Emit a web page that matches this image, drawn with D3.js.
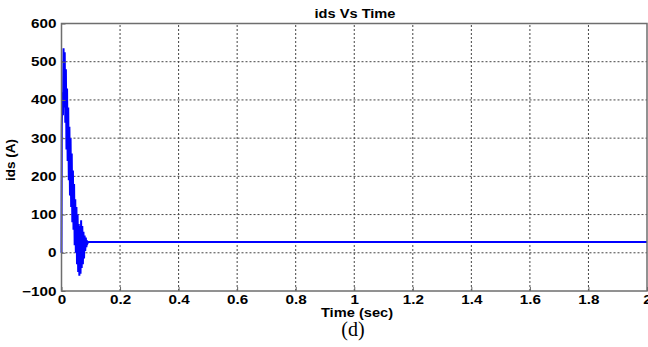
<!DOCTYPE html>
<html>
<head>
<meta charset="utf-8">
<script src="https://cdn.jsdelivr.net/npm/d3@7"></script>
<style>
  body { margin: 0; background: #fff; }
  svg text { font-family: "Liberation Sans", Arial, sans-serif; font-weight: bold; fill: #000; }
  .wide { transform-box: fill-box; transform-origin: center; transform: scaleX(1.22); }
</style>
</head>
<body>
<div id="chart"></div>
<script>
// tick labels
var xTicks = [0, 0.2, 0.4, 0.6, 0.8, 1, 1.2, 1.4, 1.6, 1.8, 2];
var yTicks = [-100, 0, 100, 200, 300, 400, 500, 600];

// ids current (A) vs time (s)
var timeSec = [0, 0.001, 0.003, 0.005, 0.007, 0.009, 0.011, 0.013, 0.015, 0.017, 0.019,
  0.021, 0.023, 0.025, 0.027, 0.029, 0.031, 0.033, 0.035, 0.037, 0.039,
  0.041, 0.043, 0.045, 0.047, 0.049, 0.051, 0.053, 0.055, 0.057, 0.059,
  0.061, 0.063, 0.065, 0.067, 0.069, 0.071, 0.073, 0.075, 0.077, 0.079,
  0.081, 0.083, 0.085, 0.087, 0.089, 0.091, 2.0];
var idsAmp = [0, 330, 420, 360, 535, 380, 525, 340, 480, 270, 430,
  240, 380, 190, 330, 150, 300, 120, 260, 80, 215,
  60, 180, 20, 140, 0, 120, -30, 100, -50, 75,
  -60, 70, -55, 85, -40, 70, -30, 55, -15, 45,
  5, 40, 15, 32, 25, 28, 28];

var W = 648, H = 347;
var margin = { top: 23.5, right: 1, bottom: 56, left: 61.5 };

var svg = d3.select("#chart").append("svg")
  .attr("width", W).attr("height", H);

var x = d3.scaleLinear().domain([0, 2]).range([margin.left, W - margin.right]);
var y = d3.scaleLinear().domain([-100, 600]).range([H - margin.bottom, margin.top]);

// grid
svg.append("g").selectAll("line")
  .data(xTicks.slice(1, -1)).enter().append("line")
  .attr("x1", d => x(d)).attr("x2", d => x(d))
  .attr("y1", y(-100)).attr("y2", y(600))
  .attr("stroke", "#444").attr("stroke-width", 1).attr("stroke-dasharray", "2,2");
svg.append("g").selectAll("line")
  .data(yTicks.slice(1, -1)).enter().append("line")
  .attr("x1", x(0)).attr("x2", x(2))
  .attr("y1", d => y(d)).attr("y2", d => y(d))
  .attr("stroke", "#444").attr("stroke-width", 1).attr("stroke-dasharray", "2,2");

// signal
var line = d3.line().x((d, i) => x(timeSec[i])).y(d => y(d));
svg.append("path")
  .datum(idsAmp)
  .attr("d", line)
  .attr("fill", "none")
  .attr("stroke", "#0000ff")
  .attr("stroke-width", 2);

// axes
var xAxis = svg.append("g")
  .attr("transform", "translate(0," + y(-100) + ")")
  .call(d3.axisBottom(x).tickValues(xTicks).tickFormat(d3.format("")).tickSize(-4).tickPadding(4));
var yAxis = svg.append("g")
  .attr("transform", "translate(" + x(0) + ",0)")
  .call(d3.axisLeft(y).tickValues(yTicks).tickSize(-4).tickPadding(5));
[xAxis, yAxis].forEach(function (a) {
  a.select(".domain").remove();
  a.selectAll(".tick line").attr("stroke", "#666");
  a.selectAll("text").attr("class", "wide").style("font-size", "12.5px");
});
yAxis.selectAll("text").style("transform-origin", "right center");

// frame
svg.append("rect")
  .attr("x", x(0)).attr("y", y(600))
  .attr("width", x(2) - x(0)).attr("height", y(-100) - y(600))
  .attr("fill", "none").attr("stroke", "#6e6e6e").attr("stroke-width", 1.5);

// labels
svg.append("text").attr("class", "wide")
  .attr("x", 355).attr("y", 18).attr("text-anchor", "middle")
  .style("font-size", "12px").text("ids Vs Time");
svg.append("text").attr("class", "wide")
  .attr("x", 357).attr("y", 317).attr("text-anchor", "middle")
  .style("font-size", "12px").text("Time (sec)");
svg.append("text")
  .attr("transform", "translate(15,160) rotate(-90)")
  .attr("text-anchor", "middle")
  .style("font-size", "13.5px").text("ids (A)");
svg.append("text")
  .attr("x", 353).attr("y", 336).attr("text-anchor", "middle")
  .style("font-family", "'Liberation Serif', 'Times New Roman', serif")
  .style("font-weight", "normal")
  .style("font-size", "20px").text("(d)");
</script>
</body>
</html>
